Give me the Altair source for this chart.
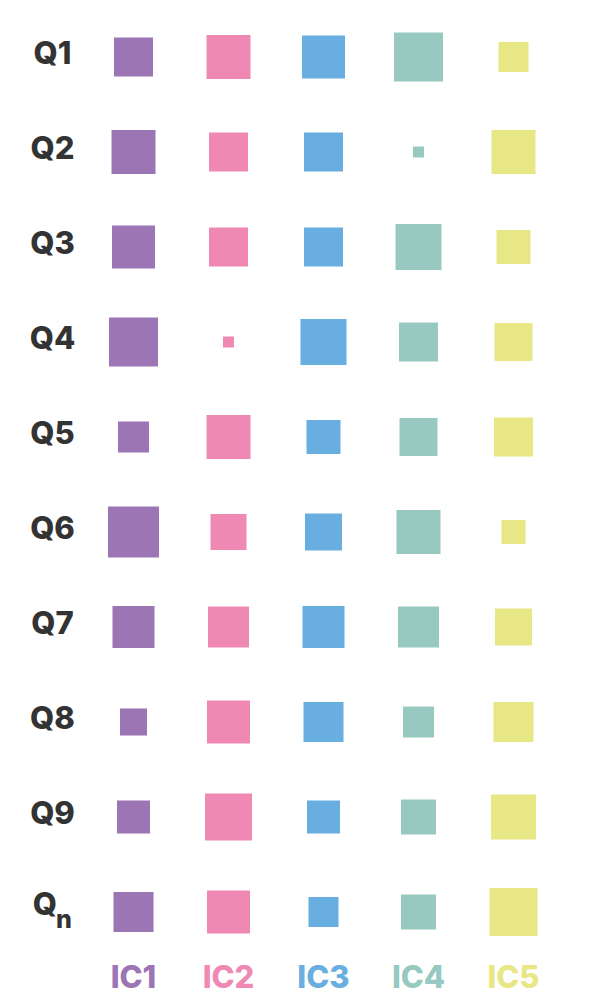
import altair as alt
import pandas as pd

rows = ["Q1", "Q2", "Q3", "Q4", "Q5", "Q6", "Q7", "Q8", "Q9", "Qn"]
cols = ["IC1", "IC2", "IC3", "IC4", "IC5"]
colors = ["#9B75B4", "#EF88B3", "#69AEE0", "#97C9C1", "#E7E785"]

ic1 = [39, 44, 43, 49, 31, 51, 42, 27, 33, 40]
ic2 = [44, 39, 39, 11, 44, 36, 41, 43, 47, 43]
ic3 = [43, 39, 39, 46, 34, 37, 42, 40, 33, 30]
ic4 = [49, 11, 46, 39, 38, 44, 41, 31, 35, 35]
ic5 = [30, 44, 34, 38, 39, 24, 37, 40, 45, 48]

values = [ic1, ic2, ic3, ic4, ic5]
recs = []
for c, vals in zip(cols, values):
    for r, v in zip(rows, vals):
        recs.append({"row": r, "col": c, "value": v})
df = pd.DataFrame(recs)

FONT = "Inter"
W, H = 475, 950

xs = alt.X("col:N", sort=cols, axis=None)
ys = alt.Y("row:N", sort=rows, axis=alt.Axis(
    title=None, domain=False, ticks=False, tickSize=0, labelPadding=34,
    labelAlign="center", labelBaseline="middle", labelFont=FONT,
    labelFontSize=31, labelFontWeight=800, labelColor="#333333", labelOffset=-3,
    labelExpr="datum.value == 'Qn' ? '' : datum.value"))
color = alt.Color("col:N", sort=cols, scale=alt.Scale(domain=cols, range=colors), legend=None)

squares = alt.Chart(df).mark_square(opacity=1, strokeWidth=0).encode(
    x=xs, y=ys, color=color,
    size=alt.Size("value:Q", scale=alt.Scale(type="pow", exponent=2, domain=[0, 50], range=[0, 2500]), legend=None),
)

qn = pd.DataFrame({"row": [rows[-1]]})
q_main = alt.Chart(qn).mark_text(font=FONT, fontSize=31, fontWeight=800, color="#333333",
                                 align="right", baseline="middle", dy=-6).encode(
    y=alt.Y("row:N", sort=rows), x=alt.value(-29), text=alt.value("Q"))
q_sub = alt.Chart(qn).mark_text(font=FONT, fontSize=25, fontWeight=800, color="#333333",
                                align="left", baseline="middle", dy=8).encode(
    y=alt.Y("row:N", sort=rows), x=alt.value(-30), text=alt.value("n"))

lab = pd.DataFrame({"col": cols})
ic_labels = alt.Chart(lab).mark_text(font=FONT, fontSize=31, fontWeight=800,
                                     baseline="middle", align="center").encode(
    x=xs, y=alt.value(H + 19), text="col:N", color=color)

chart = alt.layer(squares, q_main, q_sub, ic_labels).properties(
    width=W, height=H,
    background="white",
    autosize=alt.AutoSizeParams(type="none"),
    padding={"left": 86, "top": 9.5, "right": 39, "bottom": 40.5},
).configure_view(strokeWidth=0, stroke=None)

chart.save("out.html", embed_options={"renderer": "svg", "actions": False})
